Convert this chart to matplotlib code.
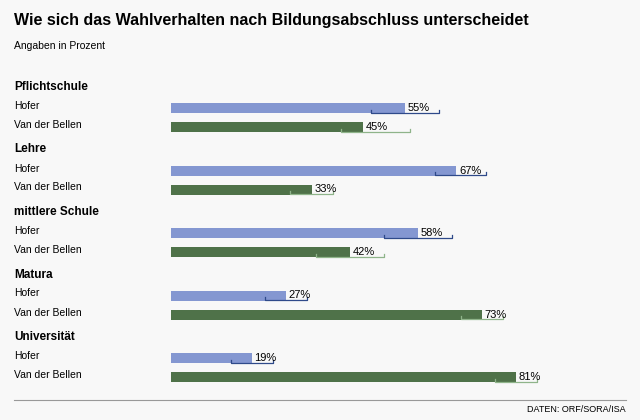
import matplotlib.pyplot as plt

groups = ["Pflichtschule", "Lehre", "mittlere Schule", "Matura", "Universität"]
hofer = [55, 67, 58, 27, 19]
vdb = [45, 33, 42, 73, 81]
hofer_lo = [47, 62, 50, 22, 14]
hofer_hi = [63, 74, 66, 32, 24]
vdb_lo = [40, 28, 34, 68, 76]
vdb_hi = [56, 38, 50, 78, 86]

blue = "#8497d1"
green = "#4f7249"
bg = "#f8f8f8"

fig = plt.figure(figsize=(6.4, 4.2), dpi=100, facecolor=bg)
ax = fig.add_axes([171 / 640, 0, 426 / 640, 1])
ax.set_xlim(0, 100)
ax.set_ylim(420, 0)
ax.axis("off")

fig.text(14 / 640, 1 - 20 / 420, "Wie sich das Wahlverhalten nach Bildungsabschluss unterscheidet",
         fontsize=11.5, fontweight="bold", va="center", family="Liberation Sans")
fig.text(14 / 640, 1 - 46 / 420, "Angaben in Prozent", fontsize=7.5, va="center", family="Liberation Sans")

for i, g in enumerate(groups):
    y0 = 87 + i * 62.5
    fig.text(14 / 640, 1 - y0 / 420, g, fontsize=8.5, fontweight="bold", va="center", family="Liberation Sans")
    for name, vals, lo, hi, col, dark, dy in [("Hofer", hofer, hofer_lo, hofer_hi, blue, "#2f4a8a", 21),
                                              ("Van der Bellen", vdb, vdb_lo, vdb_hi, green, "#8fb48a", 40)]:
        y = y0 + dy
        fig.text(14 / 640, 1 - (y - 2) / 420, name, fontsize=7.5, va="center", family="Liberation Sans")
        ax.barh(y, vals[i], height=10, color=col)
        ax.text(vals[i] + 0.6, y, f"{vals[i]}%", fontsize=8, va="center", family="Liberation Sans")
        ax.plot([lo[i], lo[i], hi[i], hi[i]], [y + 1.5, y + 4.5, y + 4.5, y + 1.5], color=dark, lw=0.9)

fig.add_artist(plt.Line2D([14 / 640, 626 / 640], [1 - 400 / 420] * 2, color="#999999", lw=0.8))
fig.text(626 / 640, 1 - 410 / 420, "DATEN: ORF/SORA/ISA", fontsize=6.5, ha="right", va="center",
         family="Liberation Sans")

fig.savefig("out.png", dpi=100, facecolor=bg)
